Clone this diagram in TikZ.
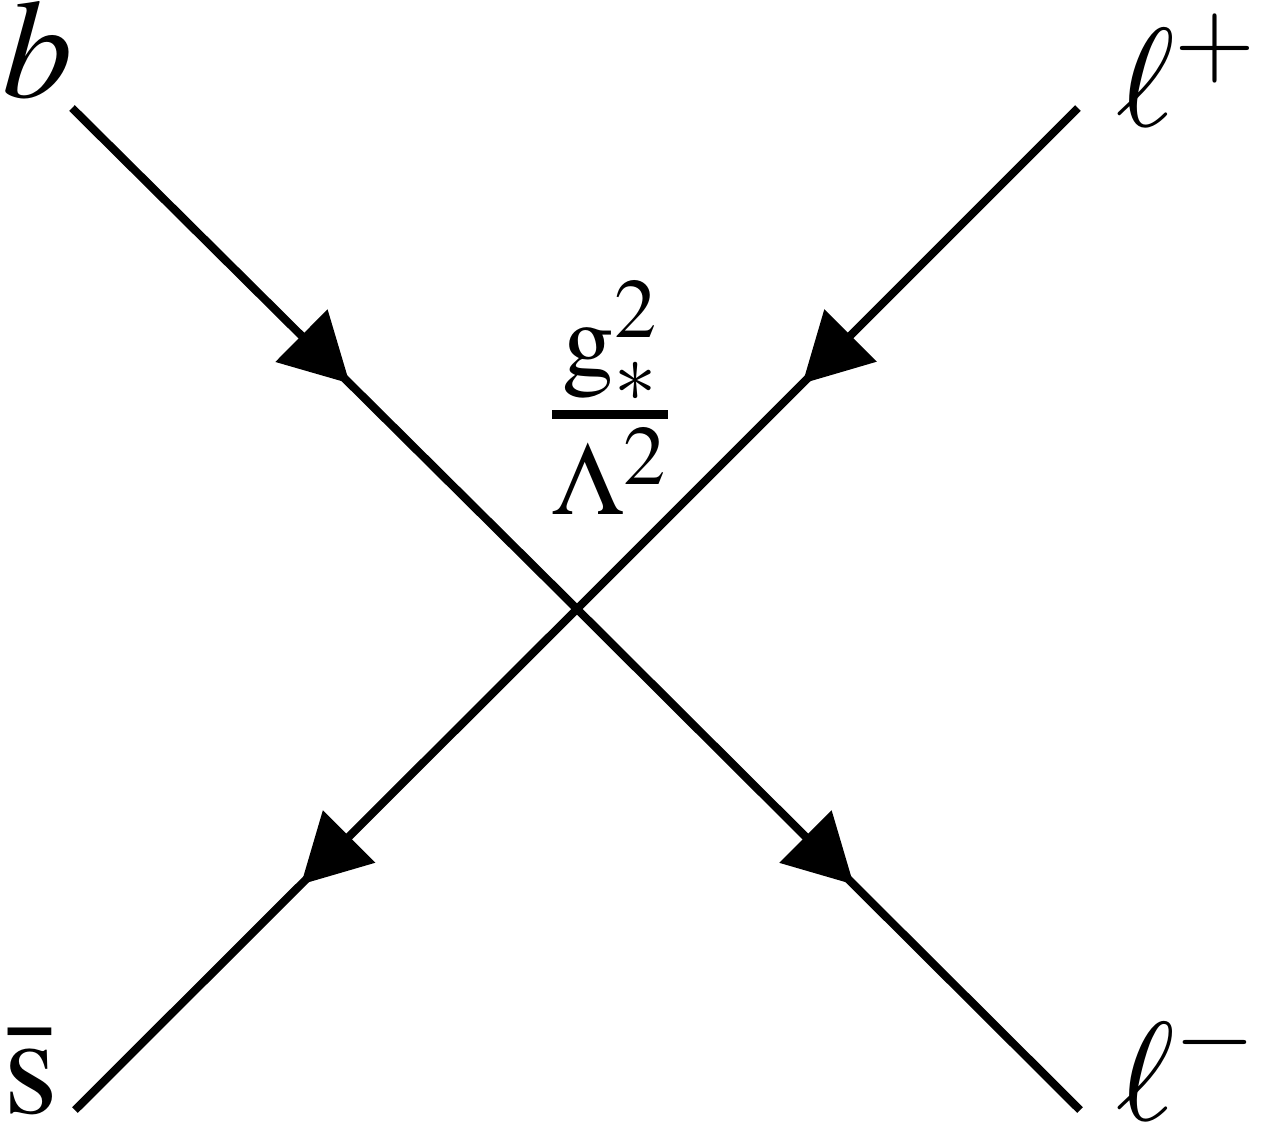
\documentclass[tikz,border=0pt]{standalone}
\usepackage{amsmath}
\usepackage{mathptmx}
\usepackage{tikz}
\usetikzlibrary{decorations.markings,arrows.meta,calc,positioning}
\tikzset{
	four fermion/.style={
		x=.01cm, y=-.01cm,
		line width=2.3pt,
		every node/.style={font=\fontsize{40}{48}\selectfont, inner sep=0pt, outer sep=0pt},
		decoration={markings, mark=at position .55 with {\arrow{Triangle[length=.68cm,width=.72cm]};}},
		ar/.style={postaction={decorate}}
		}
}

\begin{document}
\begin{tikzpicture}[four fermion]
   \useasboundingbox (0,0) rectangle (1263,1129);
   \coordinate (v) at (577,609);
   \coordinate (b0) at (72,108);
   \coordinate (lp0) at (1078,108);
   \coordinate (s0) at (75,1110);
   \coordinate (lm0) at (1080,1110);
   \node[anchor=base west] (b) at (2,97) {$b$};
   \node[anchor=base west] (lp) at (1116,126) {$\ell^{+}$};
   \node[anchor=base west] (s) at (3,1113) {$\bar{\mathrm{s}}$};
   \node[anchor=base west] (lm) at (1116,1120) {$\ell^{-}$};
   \node (coup) at (610,398) {$\genfrac{}{}{2.6pt}{1}{\mathrm{g}_*^2}{\Lambda^2}$};
   \draw[ar] (b0) -- (v);
   \draw[ar] (lp0) -- (v);
   \draw[ar] (v) -- (s0);
   \draw[ar] (v) -- (lm0);
\end{tikzpicture}
\end{document}
